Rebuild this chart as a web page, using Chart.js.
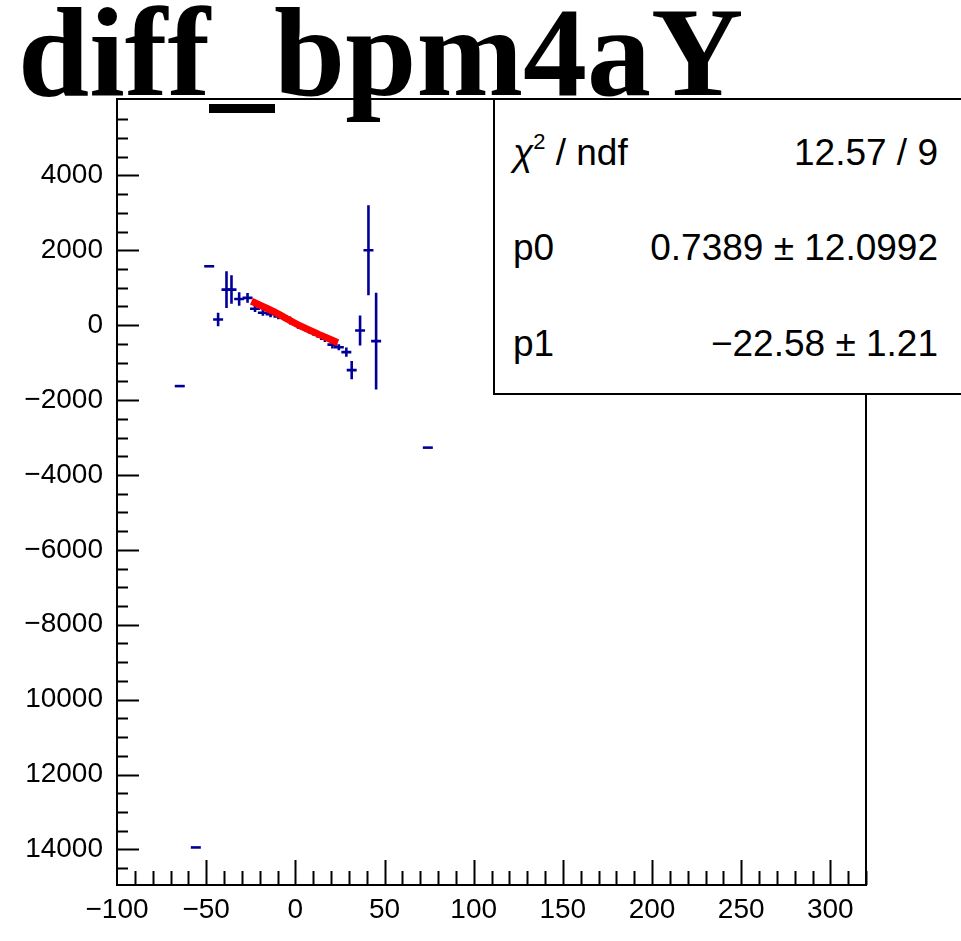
<!DOCTYPE html>
<html>
<head>
<meta charset="utf-8">
<script src="https://cdn.jsdelivr.net/npm/chart.js@4/dist/chart.umd.min.js"></script>
<style>
  html, body { margin: 0; padding: 0; background: #fff; overflow: hidden; }
  #wrap { position: relative; width: 961px; height: 941px; }
  #c { position: absolute; left: 0; top: 0; }
  #title { position: absolute; left: 18px; top: -12px; font: bold 128px/128px "Liberation Serif", "Times New Roman", serif; white-space: nowrap; color: #000; }
  #stats { position: absolute; left: 493px; top: 98px; width: 500px; height: 297px; border: 2px solid #000; background: #fff; box-sizing: border-box; }
  .row { position: absolute; left: 513px; width: 425px; display: flex; justify-content: space-between; font: 37px/37px "Liberation Sans", Arial, sans-serif; white-space: nowrap; color: #000; }
  .row sup { font-size: 22px; vertical-align: 0; position: relative; top: -16px; }
  .chi { font-style: italic; }
</style>
</head>
<body>
<div id="wrap">
  <canvas id="c" width="961" height="941"></canvas>
  <div id="title">diff_bpm4aY</div>
  <div id="stats"></div>
  <div class="row" style="top:134px"><span><span class="chi">&chi;</span><sup>2</sup> / ndf</span><span>12.57 / 9</span></div>
  <div class="row" style="top:229px"><span>p0</span><span>0.7389 &plusmn; 12.0992</span></div>
  <div class="row" style="top:325px"><span>p1</span><span>&minus;22.58 &plusmn; 1.21</span></div>
</div>
<script>
// axis ticks
var xTickValues = [-100, -50, 0, 50, 100, 150, 200, 250, 300];
var xTickLabels = ['\u2212100', '\u221250', '0', '50', '100', '150', '200', '250', '300'];
var yTickValues = [4000, 2000, 0, -2000, -4000, -6000, -8000, -10000, -12000, -14000];
var yTickLabels = ['4000', '2000', '0', '\u22122000', '\u22124000', '\u22126000', '\u22128000', '10000', '12000', '14000'];

// measured points (x, y, x error, y error)
var pointX = [-64.8, -55.8, -48.3, -43.3, -38.6, -35.8, -31.5, -26.8, -22.6, -18.2, -13.9, -9.5, -5.1, -0.8, 3.6, 8.0, 12.3, 16.6, 20.8, 24.4, 28.6, 31.6, 36.3, 41.0, 45.3, 74.3];
var pointY = [-1627, -13947, 1573, 152, 950, 950, 700, 730, 440, 330, 290, 230, 200, 50, -60, -150, -250, -360, -520, -590, -720, -1200, -141, 2000, -427, -3270];
var pointXErr = [2.8, 2.8, 2.8, 2.8, 2.8, 2.8, 2.8, 2.8, 2.8, 2.8, 2.8, 2.8, 2.8, 2.8, 2.8, 2.8, 2.8, 2.8, 2.8, 2.8, 2.8, 2.8, 2.8, 2.8, 2.8, 2.8];
var pointYErr = [0, 0, 0, 180, 490, 380, 180, 130, 90, 80, 80, 70, 70, 70, 70, 80, 80, 90, 100, 80, 125, 245, 400, 1200, 1290, 0];

// fitted line
var fitX = [-24.6, -12.0, -0.6, 12.0, 23.8];
var fitY = [640, 360, 64, -220, -469];

var rootStyle = {
  id: 'rootStyle',
  beforeDatasetsDraw: function(chart) {
    var ctx = chart.ctx;
    var xs = chart.scales.x;
    var ys = chart.scales.y;
    var a = chart.chartArea;
    ctx.save();
    ctx.beginPath();
    ctx.rect(a.left, a.top, a.right - a.left, a.bottom - a.top);
    ctx.clip();
    ctx.strokeStyle = '#000099';
    ctx.lineWidth = 2.6;
    for (var i = 0; i < pointX.length; i++) {
      var px = xs.getPixelForValue(pointX[i]);
      var py = ys.getPixelForValue(pointY[i]);
      ctx.beginPath();
      ctx.moveTo(xs.getPixelForValue(pointX[i] - pointXErr[i]), py);
      ctx.lineTo(xs.getPixelForValue(pointX[i] + pointXErr[i]), py);
      if (pointYErr[i] > 0) {
        ctx.moveTo(px, ys.getPixelForValue(pointY[i] + pointYErr[i]));
        ctx.lineTo(px, ys.getPixelForValue(pointY[i] - pointYErr[i]));
      }
      ctx.stroke();
    }
    ctx.restore();
  },
  afterDatasetsDraw: function(chart) {
    var ctx = chart.ctx;
    var xs = chart.scales.x;
    var ys = chart.scales.y;
    var a = chart.chartArea;
    ctx.save();
    ctx.strokeStyle = '#000';
    ctx.lineWidth = 2;
    ctx.strokeRect(a.left, a.top, a.right - a.left, a.bottom - a.top);
    ctx.beginPath();
    // x ticks, every 10 with longer ones every 50
    for (var v = -90; v <= 320; v += 10) {
      var px = Math.round(xs.getPixelForValue(v)) + 0.5;
      var len = (v % 50 === 0) ? 25 : 14;
      ctx.moveTo(px, a.bottom);
      ctx.lineTo(px, a.bottom - len);
    }
    // y ticks, every 500 with longer ones every 2000
    for (var w = -14500; w <= 5500; w += 500) {
      var py = Math.round(ys.getPixelForValue(w)) + 0.5;
      var l2 = (w % 2000 === 0) ? 22 : 11;
      ctx.moveTo(a.left, py);
      ctx.lineTo(a.left + l2, py);
    }
    ctx.stroke();
    ctx.restore();
  }
};

var tickFont = { family: "'Liberation Sans', Arial, sans-serif", size: 28 };

var chart = new Chart(document.getElementById('c'), {
  type: 'scatter',
  data: {
    datasets: [{
      label: 'data',
      data: pointX.map(function(x, i) { return { x: x, y: pointY[i] }; }),
      pointRadius: 0,
      showLine: false
    }, {
      label: 'fit',
      data: fitX.map(function(x, i) { return { x: x, y: fitY[i] }; }),
      showLine: true,
      borderColor: '#ff0000',
      borderWidth: 7,
      pointRadius: 0,
      tension: 0.3
    }]
  },
  options: {
    responsive: false,
    animation: false,
    devicePixelRatio: 1,
    layout: { padding: { top: 99, right: 95, left: 0, bottom: 0 } },
    plugins: { legend: { display: false }, tooltip: { enabled: false } },
    scales: {
      x: {
        type: 'linear',
        min: -100,
        max: 320,
        grid: { display: false },
        border: { display: false },
        afterBuildTicks: function(s) { s.ticks = xTickValues.map(function(v) { return { value: v }; }); },
        afterFit: function(s) { s.height = 56; },
        ticks: {
          autoSkip: false,
          maxRotation: 0,
          padding: 0,
          color: '#000',
          font: tickFont,
          callback: function(v) { return xTickLabels[xTickValues.indexOf(v)]; }
        }
      },
      y: {
        type: 'linear',
        min: -14950,
        max: 6040,
        grid: { display: false },
        border: { display: false },
        afterBuildTicks: function(s) { s.ticks = yTickValues.map(function(v) { return { value: v }; }); },
        afterFit: function(s) { s.width = 117; },
        ticks: {
          autoSkip: false,
          padding: 6,
          color: '#000',
          font: tickFont,
          callback: function(v) { return yTickLabels[yTickValues.indexOf(v)]; }
        }
      }
    }
  },
  plugins: [rootStyle]
});
</script>
</body>
</html>
